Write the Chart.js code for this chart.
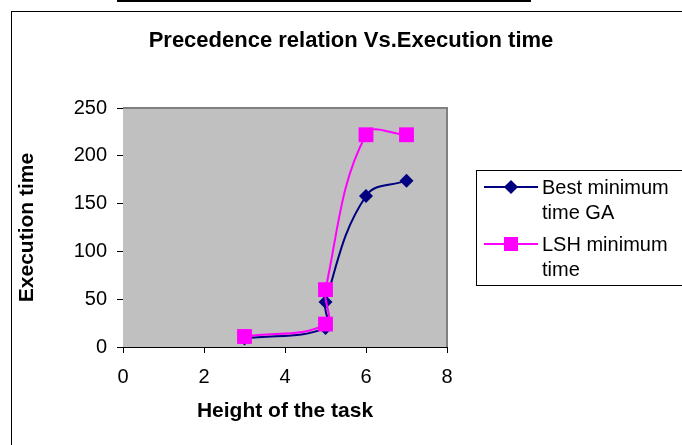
<!DOCTYPE html>
<html>
<head>
<meta charset="utf-8">
<script src="https://cdn.jsdelivr.net/npm/chart.js@4"></script>
<style>
  body { margin: 0; background: #fff; font-family: "Liberation Sans", Arial, sans-serif; }
  #wrap { position: relative; width: 682px; height: 445px; overflow: hidden; }
  #myChart { position: absolute; left: 0; top: 0; }
  .frame { position: absolute; left: 11px; top: 11px; width: 700px; height: 500px; border-left: 1px solid #000; border-top: 1px solid #000; }
  .topline { position: absolute; left: 117px; top: 0; width: 414px; height: 2px; background: #000; }
  .title { position: absolute; left: 0; width: 702px; top: 27px; text-align: center; font-weight: bold; font-size: 22px; }
  .legend { position: absolute; left: 476px; top: 170px; width: 210px; height: 114px; border: 1px solid #000; background: #fff; }
  .item { position: absolute; left: 0; font-size: 20px; line-height: 25px; }
  .item .line { position: absolute; left: 7px; top: 11px; width: 54px; height: 2px; }
  .item .mark { position: absolute; }
  .item .txt { position: absolute; left: 65px; top: 0; white-space: nowrap; }
</style>
</head>
<body>
<div id="wrap">
  <canvas id="myChart" width="682" height="445"></canvas>
  <div class="frame"></div>
  <div class="topline"></div>
  <div class="title">Precedence relation Vs.Execution time</div>
  <div class="legend" id="legend"></div>
</div>
<script>
// valores
const heights = [3, 5, 5, 6, 7];
const gaTimes = [9, 20, 47, 158, 174];
const lshTimes = [11, 24, 60, 222, 222];
const seriesNames = [['Best minimum', 'time GA'], ['LSH minimum', 'time']];
const xTicks = [0, 2, 4, 6, 8];
const yTicks = [0, 50, 100, 150, 200, 250];

const navy = '#000080';
const pink = '#FF00FF';

const toPoints = (ys) => heights.map((x, i) => ({ x: x, y: ys[i] }));

// fundo cinza da área do gráfico
const plotBg = {
    id: 'plotBg',
    beforeDatasetsDraw(chart) {
        const a = chart.chartArea;
        const c = chart.ctx;
        c.save();
        c.fillStyle = '#C0C0C0';
        c.fillRect(a.left, a.top, a.right - a.left, a.bottom - a.top);
        c.strokeStyle = '#808080';
        c.lineWidth = 2;
        c.beginPath();
        c.moveTo(a.left, a.top);
        c.lineTo(a.right, a.top);
        c.lineTo(a.right, a.bottom);
        c.stroke();
        c.restore();
    }
};

const ctx = document.getElementById('myChart').getContext('2d');
const myChart = new Chart(ctx, {
    type: 'scatter',
    data: {
        datasets: [{
            label: seriesNames[0].join(' '),
            data: toPoints(gaTimes),
            showLine: true,
            borderColor: navy,
            backgroundColor: navy,
            borderWidth: 2,
            pointStyle: 'rectRot',
            pointRadius: 7,
            pointBorderWidth: 0,
            tension: 0.4,
            order: 2
        }, {
            label: seriesNames[1].join(' '),
            data: toPoints(lshTimes),
            showLine: true,
            borderColor: pink,
            backgroundColor: pink,
            borderWidth: 2,
            pointStyle: 'rect',
            pointRadius: 10.5,
            pointBorderWidth: 0,
            tension: 0.4,
            order: 1
        }]
    },
    options: {
        responsive: false,
        animation: false,
        layout: { padding: { left: 0, top: 108, right: 235, bottom: 0 } },
        plugins: {
            legend: { display: false },
            tooltip: { enabled: false }
        },
        scales: {
            x: {
                min: 0, max: 8,
                afterFit: (s) => { s.height = 98; },
                afterBuildTicks: (s) => { s.ticks = xTicks.map(v => ({ value: v })); },
                grid: { drawOnChartArea: false, drawTicks: true, tickLength: 6, tickColor: '#000' },
                border: { color: '#000', width: 1 },
                ticks: { color: '#000', font: { family: 'Liberation Sans', size: 20 }, padding: 12, maxRotation: 0 },
                title: {
                    display: true, text: 'Height of the task', color: '#000',
                    font: { family: 'Liberation Sans', size: 21, weight: 'bold' },
                    padding: { top: 21, bottom: 21 }
                }
            },
            y: {
                min: 0, max: 250,
                afterFit: (s) => { s.width = 123; },
                afterBuildTicks: (s) => { s.ticks = yTicks.map(v => ({ value: v })); },
                grid: {
                    color: (c) => (c.tick && (c.tick.value === 250 || c.tick.value === 0)) ? 'rgba(0,0,0,0)' : '#333',
                    lineWidth: 1,
                    drawTicks: true, tickLength: 6, tickColor: '#000'
                },
                border: { color: '#000', width: 1 },
                ticks: { color: '#000', font: { family: 'Liberation Sans', size: 20 }, padding: 10 },
                title: {
                    display: true, text: 'Execution time', color: '#000',
                    font: { family: 'Liberation Sans', size: 21, weight: 'bold' },
                    padding: { top: 15, bottom: 15 }
                }
            }
        }
    },
    plugins: [plotBg]
});

// legenda em HTML
const legend = document.getElementById('legend');
myChart.data.datasets.forEach((ds, i) => {
    const item = document.createElement('div');
    item.className = 'item';
    item.style.top = (4 + i * 57) + 'px';
    const line = document.createElement('div');
    line.className = 'line';
    line.style.background = ds.borderColor;
    const mark = document.createElement('div');
    mark.className = 'mark';
    mark.style.background = ds.backgroundColor;
    if (ds.pointStyle === 'rectRot') {
        mark.style.width = '10px'; mark.style.height = '10px';
        mark.style.left = '29px'; mark.style.top = '7px';
        mark.style.transform = 'rotate(45deg)';
    } else {
        mark.style.width = '14px'; mark.style.height = '14px';
        mark.style.left = '27px'; mark.style.top = '5px';
    }
    const txt = document.createElement('div');
    txt.className = 'txt';
    txt.innerHTML = seriesNames[i].join('<br>');
    item.appendChild(line);
    item.appendChild(mark);
    item.appendChild(txt);
    legend.appendChild(item);
});
</script>
</body>
</html>
